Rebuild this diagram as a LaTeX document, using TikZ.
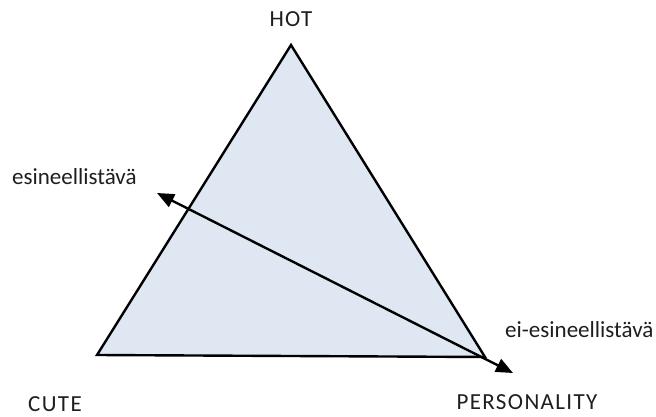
\documentclass[tikz,border=0pt]{standalone}
\usepackage{fontspec}
\setmainfont{Carlito}
\usetikzlibrary{arrows.meta}
\definecolor{trifill}{RGB}{222,231,242}
\definecolor{txt}{RGB}{30,30,30}
\begin{document}
\begin{tikzpicture}[x=1pt,y=-1pt,
  lbl/.style={font=\fontsize{23}{27}\selectfont, text=txt, inner sep=0pt, anchor=base},
  caplbl/.style={lbl, font=\fontsize{23}{27}\selectfont\addfontfeature{LetterSpace=6}},
  edge/.style={line width=2.4pt, line join=miter},
  dblarrow/.style={line width=2.4pt, {Triangle[length=17pt,width=14pt]}-{Triangle[length=17pt,width=14pt]}}]
\useasboundingbox (0,0) rectangle (656,417);
\coordinate (top) at (291,45);
\coordinate (bl) at (97,355);
\coordinate (br) at (485,357);
\filldraw[edge, fill=trifill, draw=black] (top) -- (bl) -- (br) -- cycle;
\coordinate (arrA) at (157,193);
\coordinate (arrB) at (513,373);
\draw[dblarrow] (arrA) -- (arrB);
\node[caplbl] (hot) at (291,27) {HOT};
\node[caplbl] (cute) at (55,411) {CUTE};
\node[caplbl] (pers) at (527,409) {PERSONALITY};
\node[lbl, anchor=base west] (obj) at (12,185) {esineellistävä};
\node[lbl, anchor=base west] (nonobj) at (505,337) {ei-esineellistävä};
\end{tikzpicture}
\end{document}
